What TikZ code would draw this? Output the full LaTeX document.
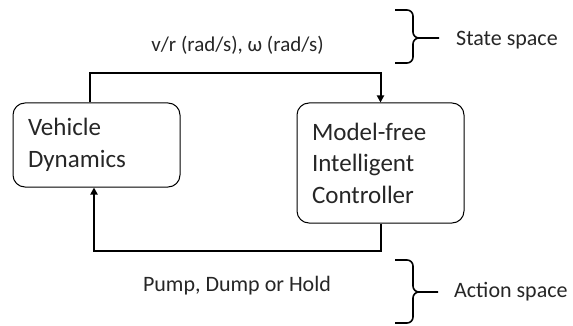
\documentclass[tikz,border=0pt]{standalone}
\usepackage{fontspec}
\setmainfont{Carlito}
\usetikzlibrary{arrows.meta,calc}
\tikzset{
  blockbox/.style={draw, line width=1pt, rounded corners=12pt, inner xsep=15pt, inner ysep=0pt,
    align=left, text width=137pt, font=\fontsize{25}{31.5}\selectfont, text=black!85},
  conn/.style={line width=2pt},
  conntip/.style={conn, -{Triangle[length=7pt,width=7pt]}},
  lbl/.style={font=\fontsize{22}{26}\selectfont, text=black!85, inner sep=0pt},
  bracepath/.style={line width=1.6pt, rounded corners=6pt}
}
\begin{document}
\begin{tikzpicture}[x=1pt,y=-1pt]
\useasboundingbox (0,0) rectangle (573,326);
\node[blockbox, minimum height=84pt] (lb) at (96.5,145) {Vehicle\\Dynamics};
\node[blockbox, minimum height=120pt] (rb) at (380.5,163) {Model-free\\Intelligent\\Controller};
\coordinate (topy) at (0,73);
\coordinate (boty) at (0,251);
\draw[conntip] ([xshift=-6.5pt]lb.north) -- ([xshift=-6.5pt]lb.north |- topy) -| (rb.north);
\draw[conntip] (rb.south) -- (rb.south |- boty) -| ([xshift=-2.5pt]lb.south);
\node[lbl, font=\fontsize{21}{26}\selectfont] (st) at (237.5,45) {v/r (rad/s), ω (rad/s)};
\node[lbl] (ac) at (237,286) {Pump, Dump or Hold};
% braces
\coordinate (b1) at (439,38);
\coordinate (b2) at (438,292);
\draw[bracepath] (395,10) -- (413,10) -- (413,38) -- (b1);
\draw[bracepath] (395,63) -- (413,63) -- (413,38) -- (420,38);
\draw[bracepath] (395,260) -- (413,260) -- (413,292) -- (b2);
\draw[bracepath] (395,323) -- (413,323) -- (413,292) -- (420,292);
\node[lbl, anchor=west] (ss) at (456,40) {State space};
\node[lbl, anchor=west] (as) at (454,292) {Action space};
\end{tikzpicture}
\end{document}
